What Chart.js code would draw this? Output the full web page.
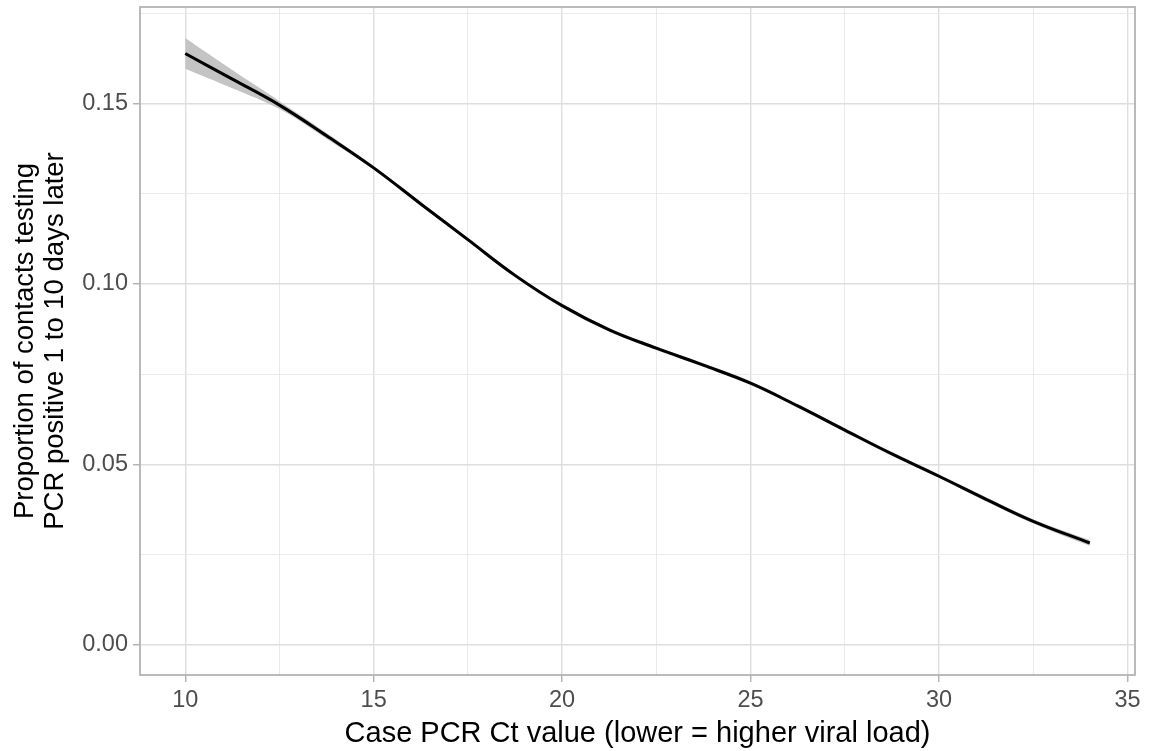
<!DOCTYPE html>
<html>
<head>
<meta charset="utf-8">
<script src="https://cdn.jsdelivr.net/npm/chart.js@4/dist/chart.umd.min.js"></script>
<style>
  html, body { margin: 0; padding: 0; background: #ffffff; }
  #wrap { width: 1149px; height: 751px; position: relative; }
</style>
</head>
<body>
<div id="wrap"><canvas id="c" width="1149" height="751"></canvas></div>
<script>
// Case PCR Ct value
const ct = [10, 11.25, 12.5, 13.75, 15, 16.25, 17.5, 18.75, 20, 21.25, 22.5, 23.75, 25, 26.25, 27.5, 28.75, 30, 31.25, 32.5, 34];
// Fitted proportion of contacts testing positive
const prop = [0.1639, 0.1568, 0.1496, 0.1411, 0.1322, 0.1222, 0.1123, 0.1024, 0.0940, 0.0873, 0.0822, 0.0775, 0.0725, 0.0662, 0.0595, 0.0529, 0.0467, 0.0403, 0.0342, 0.0282];
// Confidence band
const upper = [0.1682, 0.1593, 0.1507, 0.1419, 0.1327, 0.1227, 0.1128, 0.1029, 0.0945, 0.0878, 0.0827, 0.0780, 0.0730, 0.0667, 0.0600, 0.0534, 0.0472, 0.0409, 0.0348, 0.0290];
const lower = [0.1597, 0.1543, 0.1485, 0.1403, 0.1317, 0.1217, 0.1118, 0.1019, 0.0935, 0.0868, 0.0817, 0.0770, 0.0720, 0.0657, 0.0590, 0.0524, 0.0462, 0.0397, 0.0336, 0.0274];

const xTicksMajor = [10, 15, 20, 25, 30, 35];
const yTickLabels = ['0.00', '0.05', '0.10', '0.15'];

const toPts = (ys) => ct.map((x, i) => ({ x: x, y: ys[i] }));

const borderPlugin = {
  id: 'panelBorder',
  afterDraw(chart) {
    const a = chart.chartArea, ctx = chart.ctx;
    ctx.save();
    ctx.strokeStyle = '#b3b3b3';
    ctx.lineWidth = 1.8;
    ctx.strokeRect(a.left, a.top, a.right - a.left, a.bottom - a.top);
    ctx.restore();
  }
};

const isMajorX = (v) => Math.abs(v / 5 - Math.round(v / 5)) < 1e-6;
const isMajorY = (v) => Math.abs(v / 0.05 - Math.round(v / 0.05)) < 1e-6;
const FONT = 'Liberation Sans, Arial, sans-serif';

new Chart(document.getElementById('c'), {
  type: 'line',
  data: {
    datasets: [
      { data: toPts(prop), order: 0, borderWidth: 3, pointRadius: 0, fill: false, tension: 0.4, borderColor: '#000000' },
      { data: toPts(lower), order: 2, borderWidth: 0, pointRadius: 0, fill: false, tension: 0.4, backgroundColor: 'rgba(0,0,0,0)', borderColor: 'rgba(0,0,0,0)' },
      { data: toPts(upper), order: 1, borderWidth: 0, pointRadius: 0, fill: 1, tension: 0.4, backgroundColor: '#c4c4c4', borderColor: 'rgba(0,0,0,0)' }
    ]
  },
  options: {
    responsive: false,
    animation: false,
    events: [],
    layout: { padding: { left: 0, top: 7, right: 14, bottom: 0 } },
    plugins: { legend: { display: false }, tooltip: { enabled: false } },
    scales: {
      x: {
        type: 'linear',
        min: 8.8, max: 35.2,
        afterBuildTicks(scale) {
          const t = [];
          for (let v = 10; v <= 35.0001; v += 2.5) t.push({ value: v });
          scale.ticks = t;
        },
        afterFit(scale) { scale.height = 76; scale.paddingLeft = 0; scale.paddingRight = 0; },
        border: { display: false },
        grid: {
          color: (c) => isMajorX(c.tick.value) ? '#dedede' : '#e8e8e8',
          lineWidth: (c) => isMajorX(c.tick.value) ? 1.4 : 0.9,
          tickColor: (c) => isMajorX(c.tick.value) ? '#b3b3b3' : 'rgba(0,0,0,0)',
          tickLength: 7,
          tickWidth: 1.5
        },
        ticks: {
          autoSkip: false,
          maxRotation: 0,
          color: '#4d4d4d',
          font: { family: FONT, size: 23.5 },
          padding: 4,
          callback: (v) => xTicksMajor.includes(v) ? String(v) : ''
        },
        title: {
          display: true,
          text: 'Case PCR Ct value (lower = higher viral load)',
          color: '#000000',
          font: { family: FONT, size: 29 },
          padding: { top: 0, bottom: 0 }
        }
      },
      y: {
        type: 'linear',
        min: -0.0084, max: 0.1768,
        afterBuildTicks(scale) {
          const t = [];
          for (let k = 0; k <= 7; k++) t.push({ value: k * 0.025 });
          scale.ticks = t;
        },
        afterFit(scale) { scale.width = 140; scale.paddingTop = 0; scale.paddingBottom = 0; },
        border: { display: false },
        grid: {
          color: (c) => isMajorY(c.tick.value) ? '#dedede' : '#e8e8e8',
          lineWidth: (c) => isMajorY(c.tick.value) ? 1.4 : 0.9,
          tickColor: (c) => isMajorY(c.tick.value) ? '#b3b3b3' : 'rgba(0,0,0,0)',
          tickLength: 7,
          tickWidth: 1.5
        },
        ticks: {
          autoSkip: false,
          color: '#4d4d4d',
          font: { family: FONT, size: 23.5 },
          padding: 5,
          callback: (v) => {
            const k = Math.round(v / 0.05);
            return isMajorY(v) ? yTickLabels[k] : '';
          }
        },
        title: {
          display: true,
          text: ['Proportion of contacts testing', 'PCR positive 1 to 10 days later'],
          color: '#000000',
          font: { family: FONT, size: 27.5, lineHeight: 1.1 },
          padding: { top: 10, bottom: 0 }
        }
      }
    }
  },
  plugins: [borderPlugin]
});
</script>
</body>
</html>
